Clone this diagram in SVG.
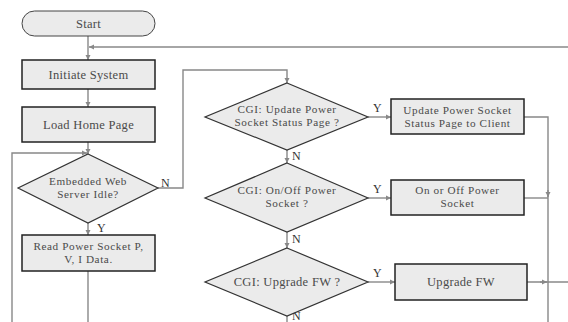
<svg xmlns="http://www.w3.org/2000/svg" width="568" height="322" viewBox="0 0 568 322">
<style>
.box{fill:#ebebeb;stroke:#222;stroke-width:1.5}
.dia{fill:#ebebeb;stroke:#333;stroke-width:1.2}
.t{font-family:"Liberation Serif",serif;font-size:11.2px;letter-spacing:0.6px;fill:#4a4a4a;text-anchor:middle}
.t1{font-size:12.5px;letter-spacing:0.3px}
.lb{font-family:"Liberation Serif",serif;font-size:12px;fill:#333}
.c{fill:none;stroke:#888;stroke-width:1.4}
</style>
<defs>
<marker id="a" markerWidth="6" markerHeight="6" refX="5" refY="3" orient="auto" markerUnits="userSpaceOnUse">
<path d="M0,0.5 L5,3 L0,5.5 Z" fill="#888"/>
</marker>
</defs>
<rect width="568" height="322" fill="#fff"/>
<g id="connectors">
<path class="c" d="M88,36 V60" marker-end="url(#a)"/>
<path class="c" d="M568,47 H89" marker-end="url(#a)"/>
<path class="c" d="M88,89 V107" marker-end="url(#a)"/>
<path class="c" d="M88,142 V154" marker-end="url(#a)"/>
<path class="c" d="M12,322 V153 H87" marker-end="url(#a)"/>
<path class="c" d="M158,188 H183 V70 H287 V83" marker-end="url(#a)"/>
<path class="c" d="M88,223 V235" marker-end="url(#a)"/>
<path class="c" d="M88,271 V322"/>
<path class="c" d="M368,117 H391" marker-end="url(#a)"/>
<path class="c" d="M287,150 V163" marker-end="url(#a)"/>
<path class="c" d="M368,198 H391" marker-end="url(#a)"/>
<path class="c" d="M287,232 V248" marker-end="url(#a)"/>
<path class="c" d="M368,282 H395" marker-end="url(#a)"/>
<path class="c" d="M287,316 V322"/>
<path class="c" d="M524,117 H548 V322"/>
<path class="c" d="M524,198 H548"/>
<path class="c" d="M548,190 V197" marker-end="url(#a)"/>
<path class="c" d="M527,282 H568"/>
<path class="c" d="M540,282 H547" marker-end="url(#a)"/>
<text class="lb" x="161" y="187">N</text>
<text class="lb" x="97" y="232">Y</text>
<text class="lb" x="373" y="112">Y</text>
<text class="lb" x="292" y="160">N</text>
<text class="lb" x="373" y="193">Y</text>
<text class="lb" x="292" y="243">N</text>
<text class="lb" x="373" y="277">Y</text>
<text class="lb" x="292" y="320">N</text>
</g>
<g id="start">
<rect class="box" x="22" y="11" width="133" height="25" rx="12.5" style="stroke-width:1;stroke:#444"/>
<text class="t t1" x="88.5" y="28">Start</text>
</g>
<g id="initiate">
<rect class="box" x="22" y="60" width="133" height="29"/>
<text class="t t1" x="88.5" y="79">Initiate System</text>
</g>
<g id="loadhome">
<rect class="box" x="22" y="107" width="133" height="35"/>
<text class="t t1" x="88.5" y="129">Load Home Page</text>
</g>
<g id="idle">
<polygon class="dia" points="88,154 158,188 88,223 18,188"/>
<text class="t" x="88" y="185">Embedded Web</text>
<text class="t" x="88" y="198">Server Idle?</text>
</g>
<g id="readdata">
<rect class="box" x="22" y="235" width="133" height="36"/>
<text class="t" x="88.5" y="250">Read Power Socket P,</text>
<text class="t" x="88.5" y="263">V, I  Data.</text>
</g>
<g id="cgiupdate">
<polygon class="dia" points="287,83 368,117 287,150 205,117"/>
<text class="t" x="287" y="113">CGI: Update Power</text>
<text class="t" x="287" y="126">Socket Status Page ?</text>
</g>
<g id="cgionoff">
<polygon class="dia" points="287,163 368,198 287,232 205,198"/>
<text class="t" x="287" y="194">CGI: On/Off Power</text>
<text class="t" x="287" y="207">Socket ?</text>
</g>
<g id="cgiupgrade">
<polygon class="dia" points="287,248 368,282 287,316 205,282"/>
<text class="t t1" x="287" y="286">CGI: Upgrade FW ?</text>
</g>
<g id="updatestatus">
<rect class="box" x="391" y="99" width="133" height="35"/>
<text class="t" x="457.5" y="114">Update Power Socket</text>
<text class="t" x="457.5" y="127">Status Page to Client</text>
</g>
<g id="onoff">
<rect class="box" x="391" y="180" width="133" height="35"/>
<text class="t" x="457.5" y="194">On or Off Power</text>
<text class="t" x="457.5" y="207">Socket</text>
</g>
<g id="upgradefw">
<rect class="box" x="395" y="264" width="132" height="36"/>
<text class="t t1" x="461" y="286">Upgrade FW</text>
</g>
</svg>
